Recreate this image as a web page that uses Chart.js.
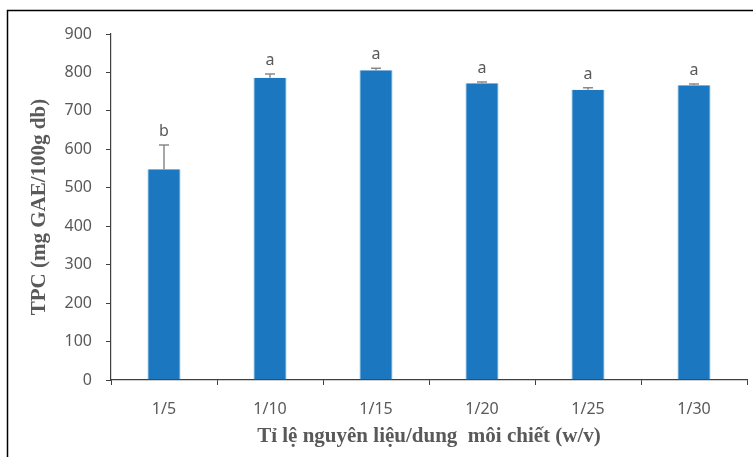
<!DOCTYPE html>
<html>
<head>
<meta charset="utf-8">
<script src="https://cdn.jsdelivr.net/npm/chart.js@4/dist/chart.umd.min.js"></script>
<style>
  html, body { margin: 0; padding: 0; background: #fff; }
  #wrap { width: 753px; height: 457px; }
</style>
</head>
<body>
<div id="wrap"><canvas id="c" width="753" height="457"></canvas></div>
<script>
// Extraction ratio (material / solvent) and total phenolic content
const categories = ['1/5', '1/10', '1/15', '1/20', '1/25', '1/30'];
const tpcMean = [548, 786, 806, 772, 755, 767];
const tpcSd = [63, 10, 5, 3, 5, 3];
const groupLetters = ['b', 'a', 'a', 'a', 'a', 'a'];
const yTicks = [0, 100, 200, 300, 400, 500, 600, 700, 800, 900];

const GREY_TEXT = '#595959';
const AXIS_LINE = '#3f3f3f';

// White page with the thin outer frame
const framePlugin = {
  id: 'frame',
  beforeDraw(chart) {
    const ctx = chart.ctx;
    ctx.save();
    ctx.fillStyle = '#ffffff';
    ctx.fillRect(0, 0, chart.width, chart.height);
    ctx.strokeStyle = '#000000';
    ctx.lineWidth = 1.5;
    ctx.beginPath();
    ctx.moveTo(7.5, chart.height + 2);
    ctx.lineTo(7.5, 10.5);
    ctx.lineTo(chart.width + 2, 10.5);
    ctx.stroke();
    ctx.restore();
  }
};

// Upper error bars (mean + SD) and significance letters
const errorBarPlugin = {
  id: 'errorBars',
  afterDatasetsDraw(chart) {
    const ctx = chart.ctx;
    const y = chart.scales.y;
    const meta = chart.getDatasetMeta(0);
    ctx.save();
    meta.data.forEach((bar, i) => {
      const top = y.getPixelForValue(tpcMean[i]);
      const capY = y.getPixelForValue(tpcMean[i] + tpcSd[i]);
      const x = bar.x;
      ctx.strokeStyle = '#8a8a8a';
      ctx.lineWidth = 1.5;
      ctx.beginPath();
      ctx.moveTo(x, top);
      ctx.lineTo(x, capY);
      ctx.moveTo(x - 5, capY);
      ctx.lineTo(x + 5, capY);
      ctx.stroke();
      ctx.fillStyle = GREY_TEXT;
      ctx.font = '16px "Noto Sans", sans-serif';
      ctx.textAlign = 'center';
      ctx.textBaseline = 'alphabetic';
      ctx.fillText(groupLetters[i], x, capY - 9);
    });
    ctx.restore();
  }
};

new Chart(document.getElementById('c'), {
  type: 'bar',
  data: {
    labels: categories,
    datasets: [{
      data: tpcMean,
      backgroundColor: '#1a77c0',
      borderColor: '#4f97d3',
      borderWidth: { left: 1, right: 1, top: 0, bottom: 0 },
      barPercentage: 0.31,
      categoryPercentage: 1.0
    }]
  },
  options: {
    responsive: false,
    animation: false,
    devicePixelRatio: 1,
    layout: { padding: { top: 34, right: 6, bottom: 0, left: 0 } },
    plugins: {
      legend: { display: false },
      tooltip: { enabled: false }
    },
    scales: {
      x: {
        grid: {
          display: true,
          drawOnChartArea: false,
          drawTicks: true,
          tickLength: 5,
          offset: true,
          color: AXIS_LINE,
          lineWidth: 1
        },
        border: { display: true, color: AXIS_LINE, width: 1.2 },
        ticks: {
          color: GREY_TEXT,
          font: { family: '"Noto Sans", sans-serif', size: 16 },
          padding: 15,
          maxRotation: 0
        },
        title: {
          display: true,
          text: 'Tỉ lệ nguyên liệu/dung  môi chiết (w/v)',
          color: GREY_TEXT,
          font: { family: '"Liberation Serif", "Times New Roman", serif', size: 21, weight: 'bold' },
          padding: { top: 0, bottom: 8 }
        },
        afterFit(scale) { scale.height = 77; }
      },
      y: {
        min: 0,
        max: 900,
        afterBuildTicks(scale) { scale.ticks = yTicks.map(v => ({ value: v })); },
        grid: {
          display: true,
          drawOnChartArea: false,
          drawTicks: true,
          tickLength: 5,
          color: AXIS_LINE,
          lineWidth: 1
        },
        border: { display: true, color: AXIS_LINE, width: 1.2 },
        ticks: {
          color: GREY_TEXT,
          font: { family: '"Noto Sans", sans-serif', size: 16 },
          padding: 14
        },
        title: {
          display: true,
          text: 'TPC (mg GAE/100g db)',
          color: GREY_TEXT,
          font: { family: '"Liberation Serif", "Times New Roman", serif', size: 21, weight: 'bold' },
          padding: { top: 27, bottom: 0 }
        },
        afterFit(scale) { scale.width = 111; }
      }
    }
  },
  plugins: [framePlugin, errorBarPlugin]
});
</script>
</body>
</html>
